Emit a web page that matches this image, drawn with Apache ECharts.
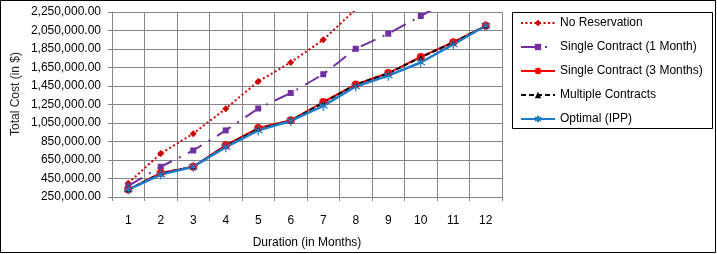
<!DOCTYPE html>
<html>
<head>
<meta charset="utf-8">
<script src="https://cdn.jsdelivr.net/npm/echarts@6/dist/echarts.min.js"></script>
<style>
html,body{margin:0;padding:0;background:#fff;}
#chart{width:717px;height:254px;}
</style>
</head>
<body>
<div id="chart"></div>
<script>
var months = ['1','2','3','4','5','6','7','8','9','10','11','12'];
var noReservation = [400000, 720000, 935000, 1205000, 1500000, 1705000, 1950000, 2280000, 2560000, 2840000, 3120000, 3400000];
var singleContract1 = [370000, 577000, 753000, 970000, 1207000, 1374000, 1577000, 1853000, 2016000, 2207000, 2400000, 2600000];
var singleContract3 = [330000, 510000, 577000, 810000, 995000, 1079000, 1277000, 1466000, 1590000, 1764000, 1923000, 2101000];
var multipleContracts = [330000, 505000, 577000, 800000, 985000, 1075000, 1270000, 1466000, 1585000, 1760000, 1920000, 2100000];
var optimalIPP = [330000, 492000, 577000, 789000, 970000, 1072000, 1235000, 1445000, 1562000, 1704000, 1899000, 2101000];
var yMin = 250000, yMax = 2250000, yStep = 200000;

var FONT = '"Liberation Sans", Arial, sans-serif';
var chart = echarts.init(document.getElementById('chart'), null, {renderer: 'canvas'});
var asterisk = 'path://M5,0L5,10M0.7,2.5L9.3,7.5M9.3,2.5L0.7,7.5';

chart.setOption({
  animation: false,
  textStyle: {fontFamily: FONT},
  grid: {left: 112, top: 12, right: 215, bottom: 54, containLabel: false},
  xAxis: {
    type: 'category',
    data: months,
    boundaryGap: true,
    name: 'Duration (in Months)',
    nameLocation: 'middle',
    nameGap: 40,
    nameTextStyle: {color: '#000', fontSize: 12, fontFamily: FONT},
    axisLine: {show: true, lineStyle: {color: '#868686', width: 1}},
    axisTick: {show: true, length: 4, lineStyle: {color: '#868686'}},
    axisLabel: {color: '#000', fontSize: 12, margin: 18, fontFamily: FONT},
    splitLine: {show: true, lineStyle: {color: '#868686', width: 1}}
  },
  yAxis: {
    type: 'value',
    min: yMin,
    max: yMax,
    interval: yStep,
    axisLine: {show: true, lineStyle: {color: '#868686', width: 1}},
    axisTick: {show: true, length: 4, lineStyle: {color: '#868686'}},
    axisLabel: {
      color: '#000', fontSize: 12, margin: 11, fontFamily: FONT,
      formatter: function (v) {
        return v.toLocaleString('en-US', {minimumFractionDigits: 2, maximumFractionDigits: 2});
      }
    },
    splitLine: {show: true, lineStyle: {color: '#868686', width: 1}}
  },
  legend: {
    orient: 'vertical',
    left: 512,
    top: 12,
    padding: [5, 0, 0, 8],
    itemWidth: 34,
    itemHeight: 8,
    itemGap: 12,
    textStyle: {color: '#000', fontSize: 12, fontFamily: FONT},
    data: ['No Reservation', 'Single Contract (1 Month)', 'Single Contract (3 Months)', 'Multiple Contracts', 'Optimal (IPP)']
  },
  graphic: [
    {type: 'rect', shape: {x: 0.5, y: 0.5, width: 715, height: 252}, style: {fill: 'none', stroke: '#000', lineWidth: 1}, silent: true},
    {type: 'rect', shape: {x: 512.5, y: 12.5, width: 200, height: 116}, style: {fill: 'none', stroke: '#000', lineWidth: 1}, silent: true},
    {type: 'text', x: 16, y: 94, rotation: Math.PI / 2,
     style: {text: 'Total Cost (in $)', fill: '#1f1f1f', font: '12px ' + FONT, align: 'center', verticalAlign: 'middle'}, silent: true}
  ],
  series: [
    {
      name: 'No Reservation', type: 'line', data: noReservation, clip: true,
      symbol: 'diamond', symbolSize: 7,
      itemStyle: {color: '#CC0000'},
      lineStyle: {color: '#CC0000', width: 2, type: [2, 2.5]}
    },
    {
      name: 'Single Contract (1 Month)', type: 'line', data: singleContract1, clip: true,
      symbol: 'rect', symbolSize: 6,
      itemStyle: {color: '#7030A0'},
      lineStyle: {color: '#7030A0', width: 2, type: [16, 8, 2, 8]}
    },
    {
      name: 'Single Contract (3 Months)', type: 'line', data: singleContract3, clip: true,
      symbol: 'circle', symbolSize: 8,
      itemStyle: {color: '#FF0000'},
      lineStyle: {color: '#FF0000', width: 2}
    },
    {
      name: 'Multiple Contracts', type: 'line', data: multipleContracts, clip: true,
      symbol: 'triangle', symbolSize: 5,
      itemStyle: {color: '#000'},
      lineStyle: {color: '#000', width: 2, type: [5, 3]}
    },
    {
      name: 'Optimal (IPP)', type: 'line', data: optimalIPP, clip: true,
      symbol: asterisk, symbolSize: 10, symbolKeepAspect: true,
      itemStyle: {color: 'none', borderColor: '#1B7CC7', borderWidth: 1.2},
      lineStyle: {color: '#1B7CC7', width: 2.5}
    }
  ]
});
</script>
</body>
</html>
